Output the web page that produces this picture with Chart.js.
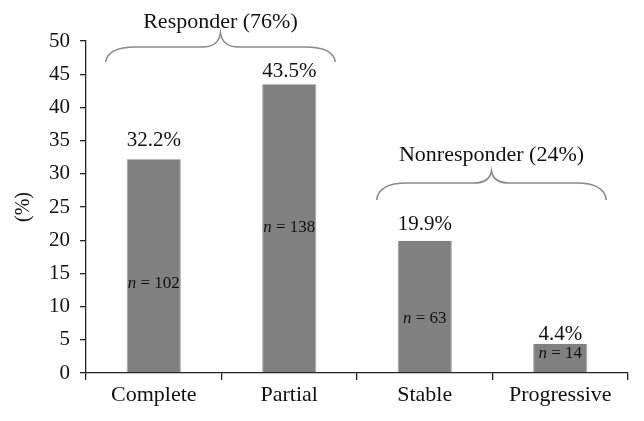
<!DOCTYPE html>
<html><head><meta charset="utf-8">
<script src="https://cdn.jsdelivr.net/npm/chart.js@4"></script>
<style>html,body{margin:0;padding:0;background:#fff}#w{width:644px;height:421px}</style>
</head><body><div id="w"><canvas id="c"></canvas></div>
<script>
const categories = ["Complete", "Partial", "Stable", "Progressive"];
const percents = [32.2, 43.5, 19.9, 4.4];
const counts = [102, 138, 63, 14];
const groupNames = ["Responder (76%)", "Nonresponder (24%)"];
const groupMembers = [[0, 1], [2, 3]];
const yTicks = [0, 5, 10, 15, 20, 25, 30, 35, 40, 45, 50];

const FONT = '"Liberation Serif", "DejaVu Serif", serif';
// placement styling (not data)
const nLabelFrac = [0.42, 0.505, 0.416, 0.68];
const pctOffset = [19, 13, 16, 9];

const annot = {
  id: 'annot',
  afterDatasetsDraw(chart) {
    const ctx = chart.ctx, x = chart.scales.x, y = chart.scales.y;
    const meta = chart.getDatasetMeta(0);
    ctx.save();
    ctx.textBaseline = 'middle';
    meta.data.forEach((bar, i) => {
      ctx.textAlign = 'center';
      ctx.fillStyle = '#111';
      ctx.font = '21px ' + FONT;
      ctx.fillText(percents[i].toFixed(1) + '%', bar.x, bar.y - pctOffset[i]);
      const ny = y.getPixelForValue(percents[i] * nLabelFrac[i]);
      const t1 = 'n', t2 = ' = ' + counts[i];
      ctx.font = 'italic 17px ' + FONT;
      const w1 = ctx.measureText(t1).width;
      ctx.font = '17px ' + FONT;
      const w2 = ctx.measureText(t2).width;
      const sx = bar.x - (w1 + w2) / 2;
      ctx.textAlign = 'left';
      ctx.font = 'italic 17px ' + FONT;
      ctx.fillText(t1, sx, ny);
      ctx.font = '17px ' + FONT;
      ctx.fillText(t2, sx + w1, ny);
    });
    ctx.textAlign = 'center';
    const braces = [
      {tip: 62, mid: 47, peak: 33, ty: 22},
      {tip: 200, mid: 183, peak: 171, ty: 155}
    ];
    const step = x.getPixelForValue(1) - x.getPixelForValue(0);
    groupMembers.forEach((g, gi) => {
      const b = braces[gi];
      const x0 = x.getPixelForValue(g[0]) - 0.355 * step;
      const x1 = x.getPixelForValue(g[1]) + 0.34 * step;
      const cx = (x0 + x1) / 2;
      ctx.strokeStyle = '#8a8a8a';
      ctx.lineWidth = 1.6;
      ctx.beginPath();
      ctx.moveTo(x0, b.tip);
      ctx.quadraticCurveTo(x0 + 2, b.mid, x0 + 30, b.mid);
      ctx.lineTo(cx - 18, b.mid);
      ctx.quadraticCurveTo(cx - 2, b.mid, cx, b.peak);
      ctx.quadraticCurveTo(cx + 2, b.mid, cx + 18, b.mid);
      ctx.lineTo(x1 - 30, b.mid);
      ctx.quadraticCurveTo(x1 - 2, b.mid, x1, b.tip);
      ctx.stroke();
      ctx.fillStyle = '#111';
      ctx.font = '22px ' + FONT;
      ctx.fillText(groupNames[gi], cx, b.ty);
    });
    ctx.restore();
  }
};

new Chart(document.getElementById('c'), {
  type: 'bar',
  data: {
    labels: categories,
    datasets: [{
      data: percents,
      backgroundColor: '#808080',
      borderColor: '#a0a0a0',
      borderWidth: {left: 1, right: 1, top: 0, bottom: 0},
      categoryPercentage: 1,
      barPercentage: 0.4
    }]
  },
  options: {
    responsive: true,
    maintainAspectRatio: false,
    animation: false,
    layout: {padding: {top: 41, right: 16, left: 0, bottom: 0}},
    plugins: {legend: {display: false}, tooltip: {enabled: false}},
    scales: {
      x: {
        offset: true,
        afterFit(s) { s.height = 48; },
        grid: {offset: true, drawOnChartArea: false, drawTicks: true, tickLength: 7, color: '#222', lineWidth: 1.3},
        border: {display: true, color: '#222', width: 1.3},
        ticks: {color: '#111', font: {family: FONT, size: 22}, padding: 2}
      },
      y: {
        min: 0, max: 50,
        afterFit(s) { s.width = 86; },
        afterBuildTicks(s) { s.ticks = yTicks.map(v => ({value: v})); },
        grid: {drawOnChartArea: false, drawTicks: true, tickLength: 6, color: '#222', lineWidth: 1.3},
        border: {display: true, color: '#222', width: 1.3},
        ticks: {color: '#111', font: {family: FONT, size: 21}, padding: 10},
        title: {display: true, text: '(%)', color: '#111', font: {family: FONT, size: 20}, padding: {top: 12, bottom: 0}}
      }
    }
  },
  plugins: [annot]
});
</script>
</body></html>
